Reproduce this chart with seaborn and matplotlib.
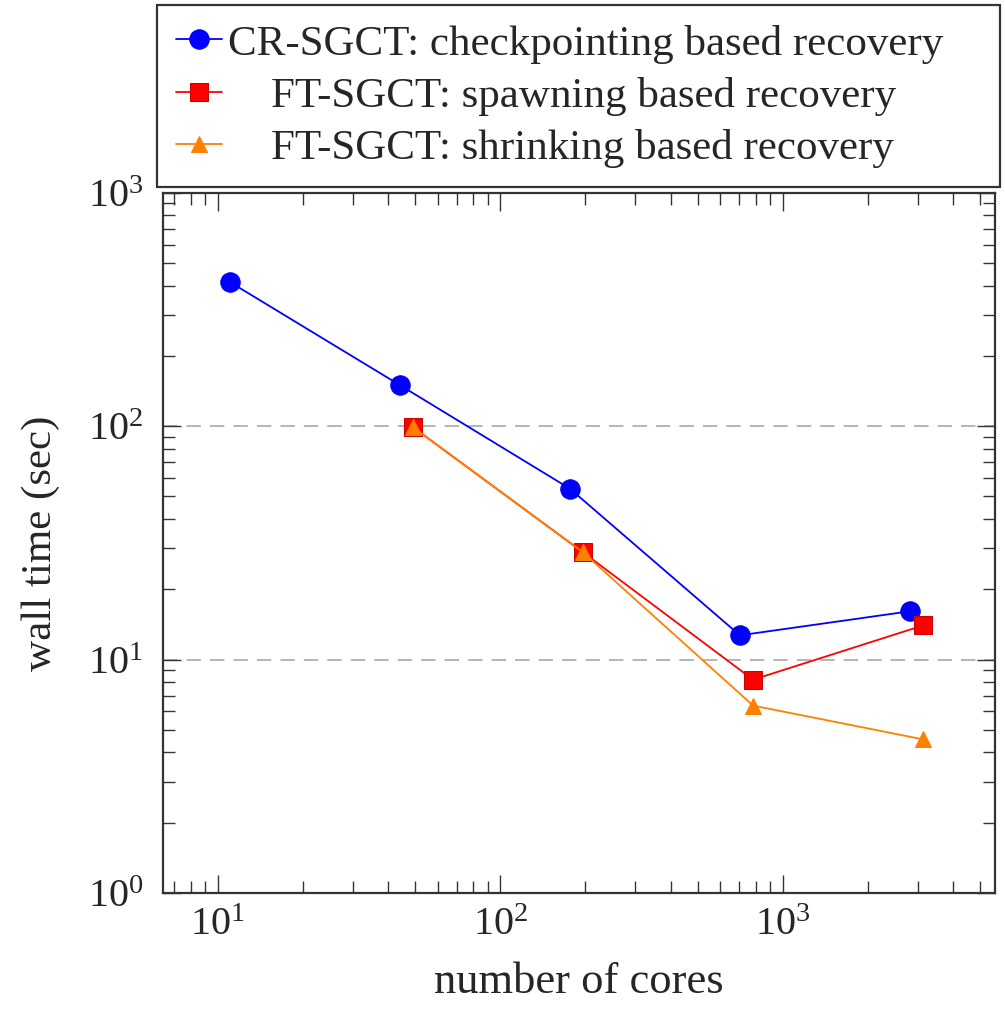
import pandas as pd
import seaborn as sns
import matplotlib.pyplot as plt
from matplotlib.ticker import LogLocator, NullFormatter

sns.set_style("ticks")
plt.rcParams['font.family'] = ['Liberation Serif', 'DejaVu Serif']
plt.rcParams['mathtext.fontset'] = 'custom'
plt.rcParams['mathtext.rm'] = 'Liberation Serif'
plt.rcParams['mathtext.it'] = 'Liberation Serif:italic'

# Data
cr_cores = [11, 44, 176, 704, 2816]
cr_time = [415, 150, 54, 12.7, 16.1]

spawn_cores = [49, 196, 784, 3136]
spawn_time = [99, 28.8, 8.2, 14.0]

shrink_cores = [49, 196, 784, 3136]
shrink_time = [99, 28.8, 6.35, 4.55]

labels = ["CR-SGCT: checkpointing based recovery",
          "    FT-SGCT: spawning based recovery",
          "    FT-SGCT: shrinking based recovery"]

fig = plt.figure(figsize=(10.05, 10.09), dpi=100)
ax = fig.add_axes([0.162, 0.115, 0.828, 0.694])

sns.lineplot(x=cr_cores, y=cr_time, ax=ax, color='#0000ff', lw=1.3,
             marker='o', markersize=14, markeredgecolor='#0000ff', label=labels[0])
sns.lineplot(x=spawn_cores, y=spawn_time, ax=ax, color='#ff0000', lw=1.3,
             marker='s', markersize=13, markeredgecolor='#cc0000', label=labels[1])
sns.lineplot(x=shrink_cores, y=shrink_time, ax=ax, color='#ff8000', lw=1.3,
             marker='^', markersize=11, markeredgecolor='#ff8000', label=labels[2])

ax.set_xscale('log')
ax.set_yscale('log')
ax.set_xlim(6.38, 5630)
ax.set_ylim(1, 1000)

ax.xaxis.set_major_locator(LogLocator(base=10, numticks=10))
ax.xaxis.set_minor_locator(LogLocator(base=10, subs=range(2, 10), numticks=20))
ax.yaxis.set_major_locator(LogLocator(base=10, numticks=10))
ax.yaxis.set_minor_locator(LogLocator(base=10, subs=range(2, 10), numticks=20))
ax.xaxis.set_minor_formatter(NullFormatter())
ax.yaxis.set_minor_formatter(NullFormatter())

ax.tick_params(which='both', direction='in', top=True, right=True,
               labelsize=29, color='#333333', width=1)
ax.tick_params(axis='x', which='major', pad=10)
ax.tick_params(axis='y', which='major', pad=14)
ax.tick_params(which='major', length=13)
ax.tick_params(which='minor', length=8.5)

for sp in ax.spines.values():
    sp.set_linewidth(1.6)
    sp.set_color('#333333')

for yv in [10, 100]:
    ax.axhline(yv, color='#b0b0b0', lw=1.3, ls=(0, (8, 5)), zorder=0)

ax.set_xlabel('number of cores', fontsize=32, labelpad=13)
ax.set_ylabel('wall time (sec)', fontsize=31, labelpad=20)

ax.get_legend().remove()
handles, _ = ax.get_legend_handles_labels()
leg = fig.legend(handles, labels, loc='upper left',
                 bbox_to_anchor=(157 / 1005, 1 - 183 / 1009, 843 / 1005, 178 / 1009),
                 bbox_transform=fig.transFigure, mode='expand',
                 fontsize=31, frameon=True, fancybox=False, edgecolor='black',
                 handlelength=1.05, handletextpad=0.15, borderpad=0.45,
                 labelspacing=0.3, borderaxespad=0)
leg.get_frame().set_linewidth(1.6)

plt.savefig('out.png', dpi=100)
